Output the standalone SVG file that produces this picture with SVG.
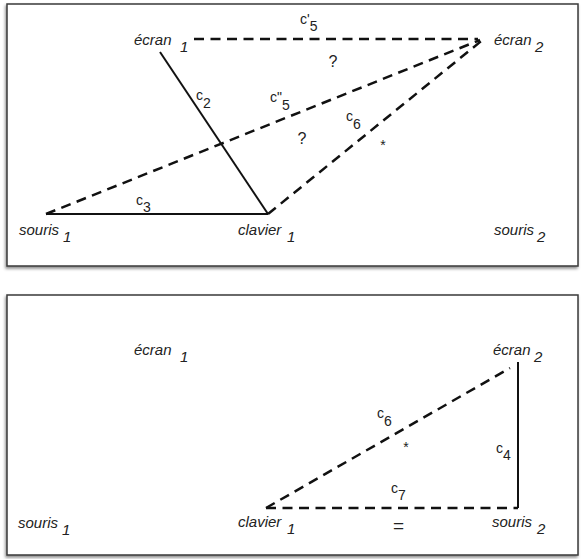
<svg xmlns="http://www.w3.org/2000/svg" width="582" height="559" viewBox="0 0 582 559">
<defs>
<filter id="sh" x="-5%" y="-5%" width="110%" height="115%">
<feDropShadow dx="-1" dy="2" stdDeviation="1.5" flood-color="#000" flood-opacity="0.45"/>
</filter>
</defs>
<style>
.panel{fill:#fff;stroke:#3a3a3a;stroke-width:1.5;filter:url(#sh)}
.node{font-family:"Liberation Sans",Arial,sans-serif;font-style:italic;font-size:15px;fill:#222}
.lbl{font-family:"Liberation Sans",Arial,sans-serif;font-size:14px;fill:#222}
.solid{stroke:#111;stroke-width:2;fill:none}
.dash{stroke:#111;stroke-width:2.5;fill:none;stroke-dasharray:10 6.5}
</style>
<rect class="panel" x="7" y="4" width="571" height="262"/>
<rect class="panel" x="7" y="295" width="571" height="260"/>

<g id="connectors">
<line class="dash" x1="194" y1="39" x2="478" y2="39"/>
<line class="solid" x1="160" y1="52" x2="268" y2="214"/>
<line class="solid" x1="46" y1="214" x2="268" y2="214"/>
<line class="dash" x1="46" y1="214" x2="480" y2="40"/>
<line class="dash" x1="268" y1="214" x2="485" y2="38"/>
<line class="solid" x1="518" y1="362" x2="518" y2="508"/>
<line class="dash" x1="266" y1="508" x2="518" y2="508"/>
<line class="dash" x1="266" y1="508" x2="510" y2="368"/>
</g>

<g id="labels" class="lbl">
<text x="300" y="24">c'<tspan dy="7">5</tspan></text>
<text x="333" y="67" text-anchor="middle" font-size="16">?</text>
<text x="196" y="100">c<tspan dy="8">2</tspan></text>
<text x="270" y="102">c"<tspan dy="8">5</tspan></text>
<text x="302" y="144" text-anchor="middle" font-size="16">?</text>
<text x="346" y="121">c<tspan dy="8">6</tspan></text>
<text x="383" y="150" text-anchor="middle" font-size="14">*</text>
<text x="136" y="205">c<tspan dy="7">3</tspan></text>
<text x="377" y="418">c<tspan dy="8">6</tspan></text>
<text x="406" y="452" text-anchor="middle" font-size="14">*</text>
<text x="496" y="453">c<tspan dy="7">4</tspan></text>
<text x="391" y="493">c<tspan dy="7">7</tspan></text>
<text x="398.5" y="532" text-anchor="middle" font-size="19">=</text>
</g>

<g id="ecran1-top"><text class="node" x="134" y="45">écran<tspan x="180" dy="7">1</tspan></text></g>
<g id="ecran2-top"><text class="node" x="494" y="45">écran<tspan x="535" dy="7">2</tspan></text></g>
<g id="souris1-top"><text class="node" x="19" y="235">souris<tspan x="63" dy="7">1</tspan></text></g>
<g id="clavier1-top"><text class="node" x="238" y="235">clavier<tspan x="287" dy="7">1</tspan></text></g>
<g id="souris2-top"><text class="node" x="494" y="235">souris<tspan x="537" dy="7">2</tspan></text></g>

<g id="ecran1-bottom"><text class="node" x="134" y="355">écran<tspan x="180" dy="7">1</tspan></text></g>
<g id="ecran2-bottom"><text class="node" x="493" y="355">écran<tspan x="534" dy="7">2</tspan></text></g>
<g id="souris1-bottom"><text class="node" x="18" y="528">souris<tspan x="62" dy="7">1</tspan></text></g>
<g id="clavier1-bottom"><text class="node" x="238" y="527">clavier<tspan x="287" dy="7">1</tspan></text></g>
<g id="souris2-bottom"><text class="node" x="492" y="527">souris<tspan x="537" dy="7">2</tspan></text></g>
</svg>
